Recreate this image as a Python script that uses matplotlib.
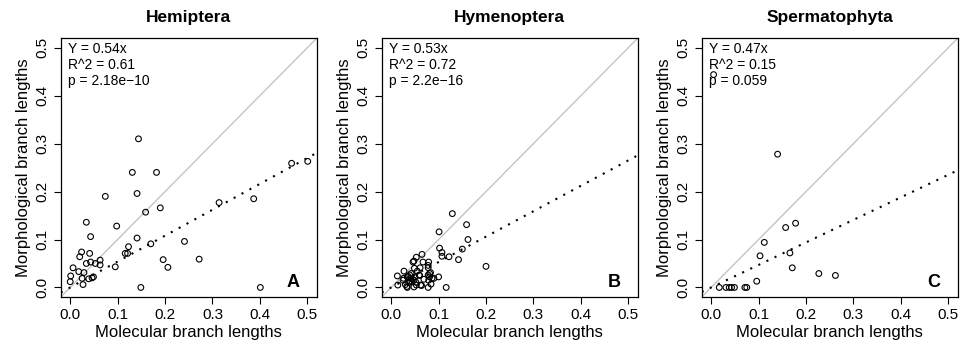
import numpy as np
import matplotlib
matplotlib.use("Agg")
import matplotlib.pyplot as plt

plt.rcParams['font.family'] = ['Liberation Sans', 'DejaVu Sans']

# panel titles, letters, fit stats
titles = ["Hemiptera", "Hymenoptera", "Spermatophyta"]
letters = ["A", "B", "C"]
slopes = [0.54, 0.53, 0.47]
stats = [["Y = 0.54x", "R^2 = 0.61", "p = 2.18e\u221210"],
         ["Y = 0.53x", "R^2 = 0.72", "p = 2.2e\u221216"],
         ["Y = 0.47x", "R^2 = 0.15", "p = 0.059"]]

# Hemiptera (molecular, morphological)
hem_x = [0.144, 0.131, 0.182, 0.141, 0.074, 0.190, 0.159, 0.314, 0.387, 0.467,
         0.501, 0.098, 0.034, 0.043, 0.141, 0.241, 0.170, 0.123, 0.116, 0.095,
         0.196, 0.206, 0.272, 0.149, 0.401, 0.063, 0.063, 0.053, 0.041, 0.024,
         0.020, 0.043, 0.034, 0.006, 0.018, 0.029, 0.001, 0.000, 0.025, 0.039,
         0.046, 0.049, 0.027, 0.121]
hem_y = [0.310, 0.240, 0.240, 0.196, 0.190, 0.166, 0.157, 0.177, 0.185, 0.259,
         0.263, 0.128, 0.136, 0.106, 0.103, 0.096, 0.091, 0.085, 0.071, 0.043,
         0.058, 0.042, 0.059, 0.000, 0.000, 0.057, 0.047, 0.050, 0.071, 0.074,
         0.064, 0.053, 0.050, 0.041, 0.033, 0.031, 0.024, 0.012, 0.019, 0.018,
         0.020, 0.022, 0.006, 0.071]

# Hymenoptera
hym_x = [0.129, 0.101, 0.159, 0.162, 0.150, 0.142, 0.200, 0.122, 0.102, 0.107,
         0.107, 0.116, 0.065, 0.053, 0.046, 0.079, 0.067, 0.061, 0.078, 0.078,
         0.081, 0.100, 0.090, 0.084, 0.078, 0.062, 0.048, 0.034, 0.013, 0.014,
         0.027, 0.026, 0.034, 0.039, 0.041, 0.044, 0.048, 0.050, 0.037, 0.030,
         0.053, 0.059, 0.055, 0.049, 0.069, 0.081, 0.025, 0.042, 0.048, 0.078,
         0.083, 0.086, 0.079, 0.060, 0.036, 0.033, 0.064, 0.045, 0.040, 0.052]
hym_y = [0.154, 0.116, 0.131, 0.100, 0.080, 0.058, 0.044, 0.064, 0.082, 0.073,
         0.065, 0.000, 0.069, 0.063, 0.053, 0.053, 0.053, 0.041, 0.041, 0.026,
         0.022, 0.022, 0.019, 0.007, 0.000, 0.005, 0.001, 0.000, 0.024, 0.005,
         0.034, 0.019, 0.022, 0.026, 0.019, 0.012, 0.015, 0.022, 0.010, 0.006,
         0.005, 0.026, 0.034, 0.040, 0.017, 0.029, 0.015, 0.029, 0.055, 0.046,
         0.031, 0.019, 0.015, 0.025, 0.023, 0.002, 0.004, 0.017, 0.013, 0.011]

# Spermatophyta
spe_x = [0.140, 0.157, 0.178, 0.112, 0.103, 0.166, 0.171, 0.227, 0.262, 0.096,
         0.017, 0.031, 0.038, 0.043, 0.049, 0.071, 0.075, 0.005]
spe_y = [0.278, 0.125, 0.134, 0.094, 0.066, 0.072, 0.041, 0.029, 0.025, 0.013,
         0.000, 0.000, 0.000, 0.000, 0.000, 0.000, 0.000, 0.444]

xs = [hem_x, hym_x, spe_x]
ys = [hem_y, hym_y, spe_y]
ticks = [0.0, 0.1, 0.2, 0.3, 0.4, 0.5]

fig = plt.figure(figsize=(9.61, 3.47), dpi=100)
lefts = [0.0632, 0.3972, 0.7302]
for i in range(3):
    ax = fig.add_axes([lefts[i], 0.144, 0.2664, 0.746])
    ax.set_xlim(-0.02, 0.52)
    ax.set_ylim(-0.02, 0.52)
    ax.axline((0, 0), slope=1, color="#c4c4c4", lw=1.0, zorder=1)
    ax.axline((0, 0), slope=slopes[i], color="black", lw=1.5,
              linestyle=(0, (1, 3.3)), zorder=2)
    ax.scatter(xs[i], ys[i], s=17, facecolors="none", edgecolors="black",
               linewidths=0.8, zorder=3)
    ax.set_xticks(ticks)
    ax.set_yticks(ticks)
    ax.set_xticklabels(["%.1f" % t for t in ticks])
    ax.set_yticklabels(["%.1f" % t for t in ticks], rotation=90, va="center")
    ax.tick_params(labelsize=11, length=5, width=0.8, pad=3)
    for sp in ax.spines.values():
        sp.set_linewidth(0.9)
    ax.set_xlabel("Molecular branch lengths", fontsize=12, labelpad=2)
    ax.set_ylabel("Morphological branch lengths", fontsize=12, labelpad=3)
    ax.set_title(titles[i], fontsize=12.5, fontweight="bold", pad=12)
    for j, s in enumerate(stats[i]):
        ax.text(0.03, 0.96 - j * 0.063, s, transform=ax.transAxes,
                fontsize=10, va="center", ha="left")
    ax.text(0.907, 0.058, letters[i], transform=ax.transAxes, fontsize=13,
            fontweight="bold", ha="center", va="center")

fig.savefig("out.png", dpi=100)
